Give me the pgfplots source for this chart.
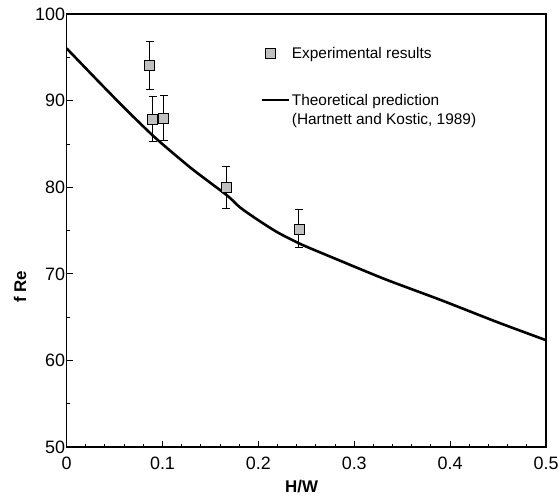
\documentclass[border=0pt]{standalone}
\usepackage{fontspec}
\setmainfont{Liberation Sans}
\usepackage{pgfplots}
\pgfplotsset{compat=1.18}
\definecolor{markgray}{RGB}{192,192,192}

\begin{document}
\begin{tikzpicture}
\begin{axis}[
    name=ax,
    scale only axis,
    width=480bp, height=433.5bp,
    xmin=0, xmax=0.5,
    ymin=50, ymax=100,
    xtick={0,0.1,0.2,0.3,0.4,0.5},
    ytick={50,60,70,80,90,100},
    minor x tick num=4,
    minor y tick num=1,
    xtick pos=bottom, ytick pos=left,
    tick align=inside,
    major tick length=6bp, minor tick length=3.5bp,
    axis line style={line width=1.6bp},
    every tick/.style={black, line width=1bp},
    tick label style={font=\fontsize{18}{21}\selectfont},
    yticklabel style={xshift=2bp},
    xticklabel style={yshift=-6bp},
    /pgf/number format/assume math mode=true,
    xlabel={H/W}, ylabel={f Re},
    label style={font=\fontsize{17}{20}\selectfont\bfseries},
    xlabel style={at={(axis description cs:0.49,-0.09)}, anchor=center},
    ylabel style={at={(axis description cs:-0.0973,0.37)}, anchor=center},
    legend style={at={(axis cs:0.202,96.45)}, anchor=north west,
        draw=none, fill=none, inner sep=0pt, row sep=29bp,
        font=\fontsize{15.5}{18.5}\selectfont},
    legend cell align=left,
]
% experimental points with error bars
\addplot[only marks, mark=square*, mark size=5bp,
    mark options={fill=markgray, draw=black, line width=0.8bp},
    error bars/.cd, y dir=both, y explicit,
    error bar style={line width=1bp, black},
    error mark options={rotate=90, mark size=4bp, line width=1bp, black},
] coordinates {
    (0.0865,94.05) +- (0,2.8)
    (0.0896,87.9)  +- (0,2.65)
    (0.1014,88.0)  +- (0,2.6)
    (0.1663,80.0)  +- (0,2.4)
    (0.2423,75.2)  +- (0,2.2)
};
\addlegendentry{Experimental results}
% theoretical curve
\addplot[black, line width=2.6bp, smooth, tension=0.4,
    legend image code/.code={\draw[line width=2.5bp] (0cm,0cm) -- (0.95cm,0cm);}]
coordinates {
    (0,96.05) (0.03,92.6) (0.06,89.2) (0.0927,85.7) (0.13,82.2)
    (0.167,79.1) (0.181,77.67) (0.2,76.2) (0.22,74.8) (0.244,73.45)
    (0.275,72.0) (0.332,69.4) (0.39,67.0) (0.45,64.4) (0.5,62.35)
};
\addlegendentry{\begin{tabular}[t]{@{}l@{}}Theoretical prediction\\(Hartnett and Kostic, 1989)\end{tabular}}
\end{axis}
\pgfresetboundingbox
\path ([shift={(-66.7bp,-48.3bp)}]ax.south west) rectangle ([shift={(14bp,14.2bp)}]ax.north east);
\end{tikzpicture}
\end{document}
